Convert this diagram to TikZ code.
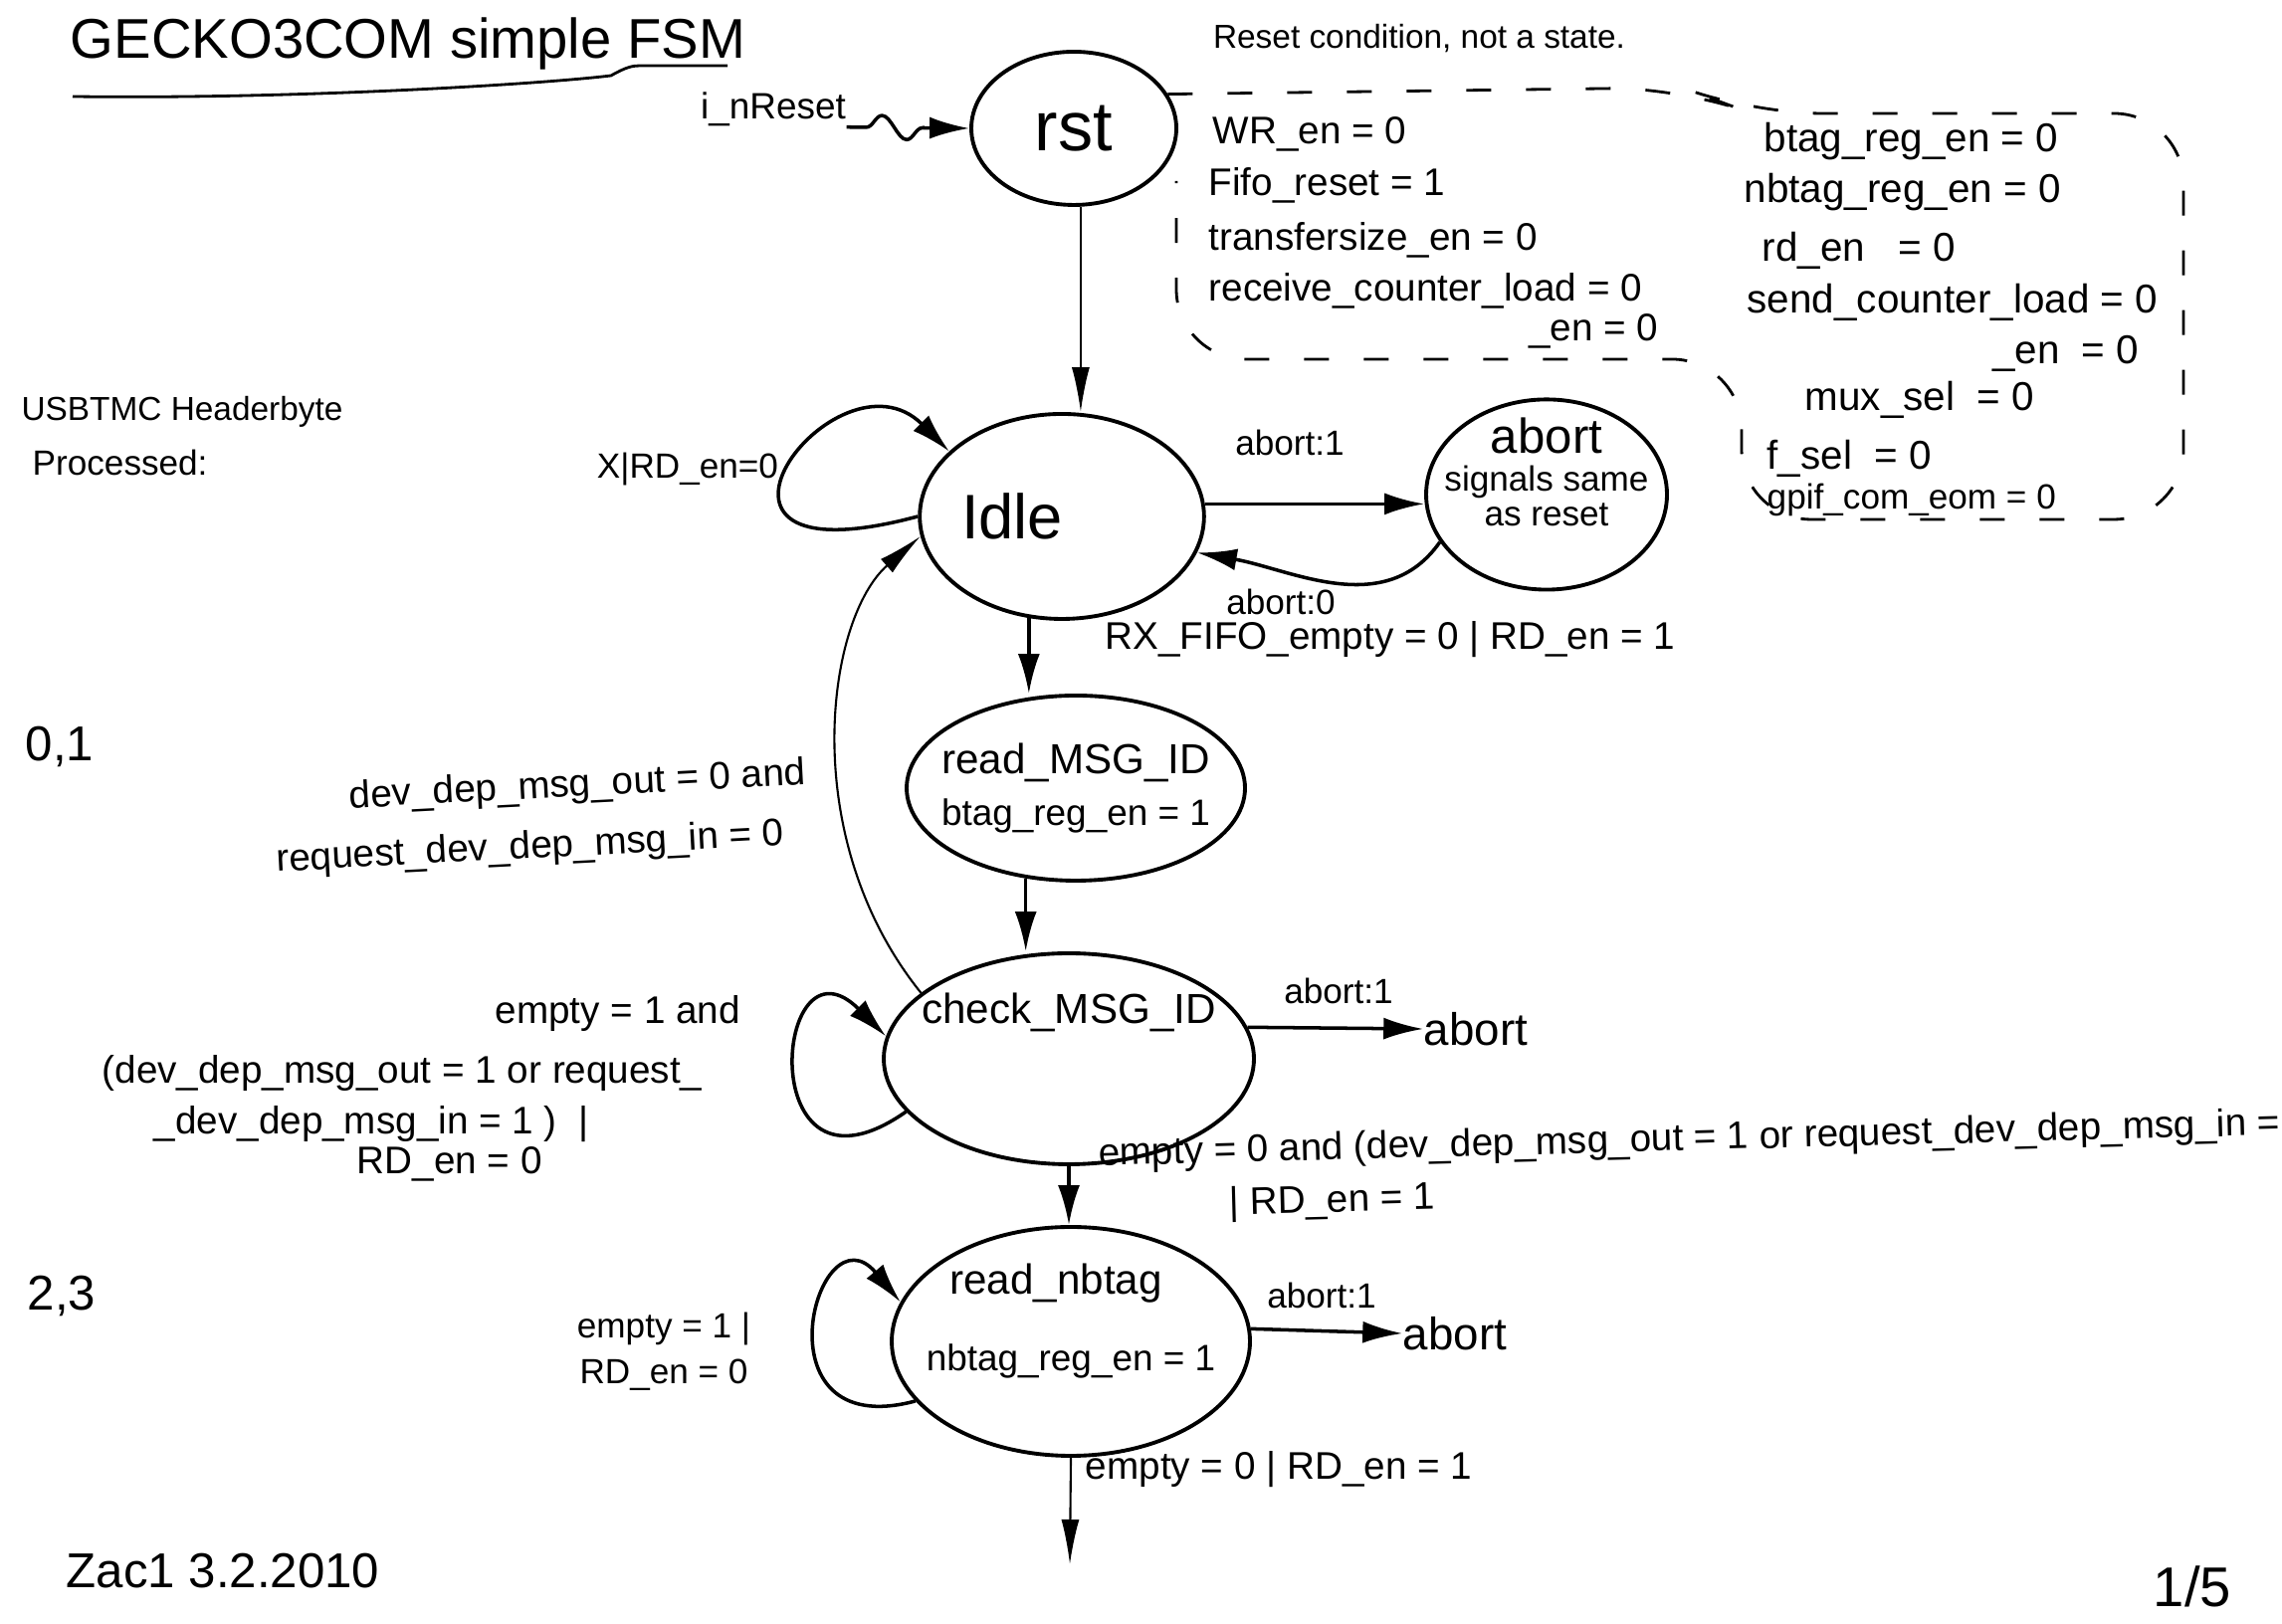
\documentclass[tikz,border=0pt]{standalone}
\usepackage{fontspec}
\setmainfont{Liberation Sans}
\usetikzlibrary{shapes.geometric, arrows.meta, decorations.pathmorphing}
\newcommand{\fsz}[1]{\fontsize{#1}{#1}\selectfont}

\begin{document}
\begin{tikzpicture}[
    snode/.style={draw, ellipse, line width=1.1pt, inner sep=0pt, align=center},
    arrow/.style={-{Latex[length=4mm, width=2.2mm]}, line width=1pt},
    thinarrow/.style={-{Latex[length=4.5mm, width=1.8mm]}, line width=0.6pt},
    lbl/.style={font=\fsz{11}, inner sep=0pt},
    sig/.style={font=\fsz{11}, anchor=west, inner sep=0pt}
  ]
  \useasboundingbox (0,0) rectangle (22.93,16.32);

  % --- header and page notes ---
  \node[font=\fsz{16}] (title) at (4.10,15.88) {GECKO3COM simple FSM};
  \draw[line width=0.8pt] (0.73,15.35) .. controls (3.0,15.32) and (5.5,15.48) .. (6.14,15.56)
      .. controls (6.28,15.64) and (6.35,15.66) .. (6.43,15.66) -- (7.31,15.66);
  \node[lbl, font=\fsz{9.5}] (hdr) at (1.83,12.18) {USBTMC Headerbyte};
  \node[sig, font=\fsz{10}] (proc) at (0.32,11.67) {Processed:};
  \node[lbl, font=\fsz{14}] (b01) at (0.60,8.82) {0,1};
  \node[lbl, font=\fsz{14}] (b23) at (0.62,3.30) {2,3};
  \node[lbl, font=\fsz{14}] (date) at (2.24,0.53) {Zac1 3.2.2010};
  \node[lbl, font=\fsz{16}] (page) at (22.03,0.38) {1/5};

  % --- reset ---
  \node[snode, minimum width=2.06cm, minimum height=1.54cm, font=\fsz{20}] (rst) at (10.79,15.03) {rst};
  \node[lbl, font=\fsz{10.5}] (inreset) at (7.77,15.22) {i\_nReset};
  \draw[arrow, decorate, decoration={snake, amplitude=1.2mm, segment length=5mm, pre length=2mm, post length=3mm}]
      (inreset.south east) -- (rst.west);

  % --- reset condition ---
  \node[lbl, font=\fsz{9.5}] (rstnote) at (14.26,15.93) {Reset condition, not a state.};
  \draw[line width=0.8pt, dash pattern=on 2.5mm off 3.5mm, rounded corners=7mm]
      (rst.20) -- (16.9,15.44) -- (17.6,15.18) -- (21.94,15.18) -- (21.94,11.10)
      -- (17.50,11.10) -- (17.50,12.71) -- (11.82,12.71) -- (11.82,14.50);
  \node[sig] (wren) at (12.18,14.97) {WR\_en = 0};
  \node[sig] (fifo) at (12.14,14.46) {Fifo\_reset = 1};
  \node[sig] (tsize) at (12.14,13.91) {transfersize\_en = 0};
  \node[sig] (rcvld) at (12.14,13.40) {receive\_counter\_load = 0};
  \node[sig, anchor=east] (rcven) at (16.67,12.99) {\_en = 0};
  \node[sig, font=\fsz{11.5}] (btag) at (17.72,14.90) {btag\_reg\_en = 0};
  \node[sig, font=\fsz{11.5}] (nbtagen) at (17.52,14.39) {nbtag\_reg\_en = 0};
  \node[sig, font=\fsz{11.5}] (rden) at (17.70,13.80) {rd\_en\ \ \ = 0};
  \node[sig, font=\fsz{11.5}] (sendld) at (17.55,13.28) {send\_counter\_load = 0};
  \node[sig, font=\fsz{11.5}, anchor=east] (senden) at (21.50,12.77) {\_en\ \ = 0};
  \node[sig, font=\fsz{11.5}] (muxsel) at (18.13,12.30) {mux\_sel\ \ = 0};
  \node[sig, font=\fsz{11.5}] (fsel) at (17.75,11.71) {f\_sel\ \ = 0};
  \node[sig, font=\fsz{10}] (eom) at (17.75,11.30) {gpif\_com\_eom = 0};

  % --- idle and abort ---
  \node[snode, minimum width=2.78cm, minimum height=2.06cm, font=\fsz{18}] (idle) at (10.67,11.13) {Idle\hspace*{1cm}};
  \node[snode, minimum width=2.42cm, minimum height=1.90cm, inner xsep=-0.23cm, inner ysep=-0.1cm, font=\fsz{10}]
      (abort) at (15.54,11.35) {{\fsz{14}abort}\\[1pt]signals same\\as reset\hspace*{0.8cm}\\[3pt]\mbox{}};
  \draw[thinarrow] (rst.-85) -- (rst.-85 |- idle.north);
  \draw[arrow] (idle.180) .. controls +(195:2.8) and +(135:1.6) .. (idle.150);
  \node[lbl, font=\fsz{10}] (idleloop) at (6.91,11.60) {X|RD\_en=0};
  \draw[arrow] (idle.5) -- (idle.5 -| abort.west);
  \node[lbl, font=\fsz{10}] (toabort) at (12.96,11.87) {abort:1};
  \draw[arrow] (abort.204) to[out=235, in=-10] (idle.-15);
  \node[lbl, font=\fsz{10}] (fromabort) at (12.87,10.27) {abort:0};
  \node[lbl] (rxlbl) at (13.97,9.89) {RX\_FIFO\_empty = 0 | RD\_en = 1};

  % --- read_MSG_ID ---
  \node[snode, minimum width=3.40cm, minimum height=1.86cm, inner xsep=-0.16cm, font=\fsz{11}] (read) at (10.81,8.40)
      {{\fsz{12}read\_MSG\_ID}\\[4pt]{\fsz{10.5}btag\_reg\_en = 1}};
  \draw[arrow] (idle.252) -- (idle.252 |- read.north);

  % --- check_MSG_ID ---
  \node[snode, minimum width=3.72cm, minimum height=2.12cm, inner xsep=-0.22cm, font=\fsz{12}] (check) at (10.74,5.68)
      {check\_MSG\_ID\\[0.6cm]\mbox{}};
  \draw[arrow] (read.241) -- (read.241 |- check.north);
  \draw[thinarrow] (check.156) .. controls (8.0,7.9) and (8.3,10.1) .. (idle.188);
  \node[lbl, align=right, anchor=east, rotate=3] (backlbl) at (8.12,8.24)
      {dev\_dep\_msg\_out = 0 and\\[6pt]request\_dev\_dep\_msg\_in = 0\hspace*{0.25cm}};
  \draw[arrow] (check.198) .. controls +(215:1.9) and +(135:1.6) .. (check.173);
  \node[lbl, align=left, anchor=west] (checkloop) at (1.02,5.38)
      {\hspace*{3.95cm}empty = 1 and\\[6pt](dev\_dep\_msg\_out = 1 or request\_\\[3.5pt]%
       \hspace*{0.52cm}\_dev\_dep\_msg\_in = 1 )\ \ |\\[0.6pt]\hspace*{2.56cm}RD\_en = 0};
  \node[lbl, font=\fsz{13}] (abortB) at (14.83,5.98) {abort};
  \draw[arrow] (check.10) -- (abortB.west);
  \node[lbl, font=\fsz{10}] (checkab) at (13.45,6.36) {abort:1};

  % --- read_nbtag ---
  \node[snode, minimum width=3.60cm, minimum height=2.30cm, inner xsep=-0.2cm, inner ysep=-0.1cm, font=\fsz{11}]
      (nbtag) at (10.76,2.84)
      {{\fsz{12}read\_nbtag}\hspace*{0.3cm}\\[11pt]{\fsz{10.5}nbtag\_reg\_en = 1}\\[3pt]\mbox{}};
  \draw[arrow] (check.south) -- (check.south |- nbtag.north);
  \node[lbl, align=left, anchor=west, rotate=1.5] (nbtaglbl) at (11.04,4.44)
      {empty = 0 and (dev\_dep\_msg\_out = 1 or request\_dev\_dep\_msg\_in =\\[4pt]\hspace*{1.3cm}| RD\_en = 1};
  \draw[arrow] (nbtag.201) .. controls +(195:1.7) and +(130:1.3) .. (nbtag.167);
  \node[lbl, font=\fsz{10}, align=center] (nbloop) at (6.67,2.74) {empty = 1 |\\[3pt]RD\_en = 0};
  \node[lbl, font=\fsz{13}] (abortC) at (14.62,2.92) {abort};
  \draw[arrow] (nbtag.4) -- (abortC.west);
  \node[lbl, font=\fsz{10}] (nbab) at (13.28,3.30) {abort:1};
  \coordinate (nbout) at (10.75,0.60);
  \draw[thinarrow] (nbtag.south) -- (nbout);
  \node[lbl] (outlbl) at (12.85,1.55) {empty = 0 | RD\_en = 1};
\end{tikzpicture}
\end{document}
